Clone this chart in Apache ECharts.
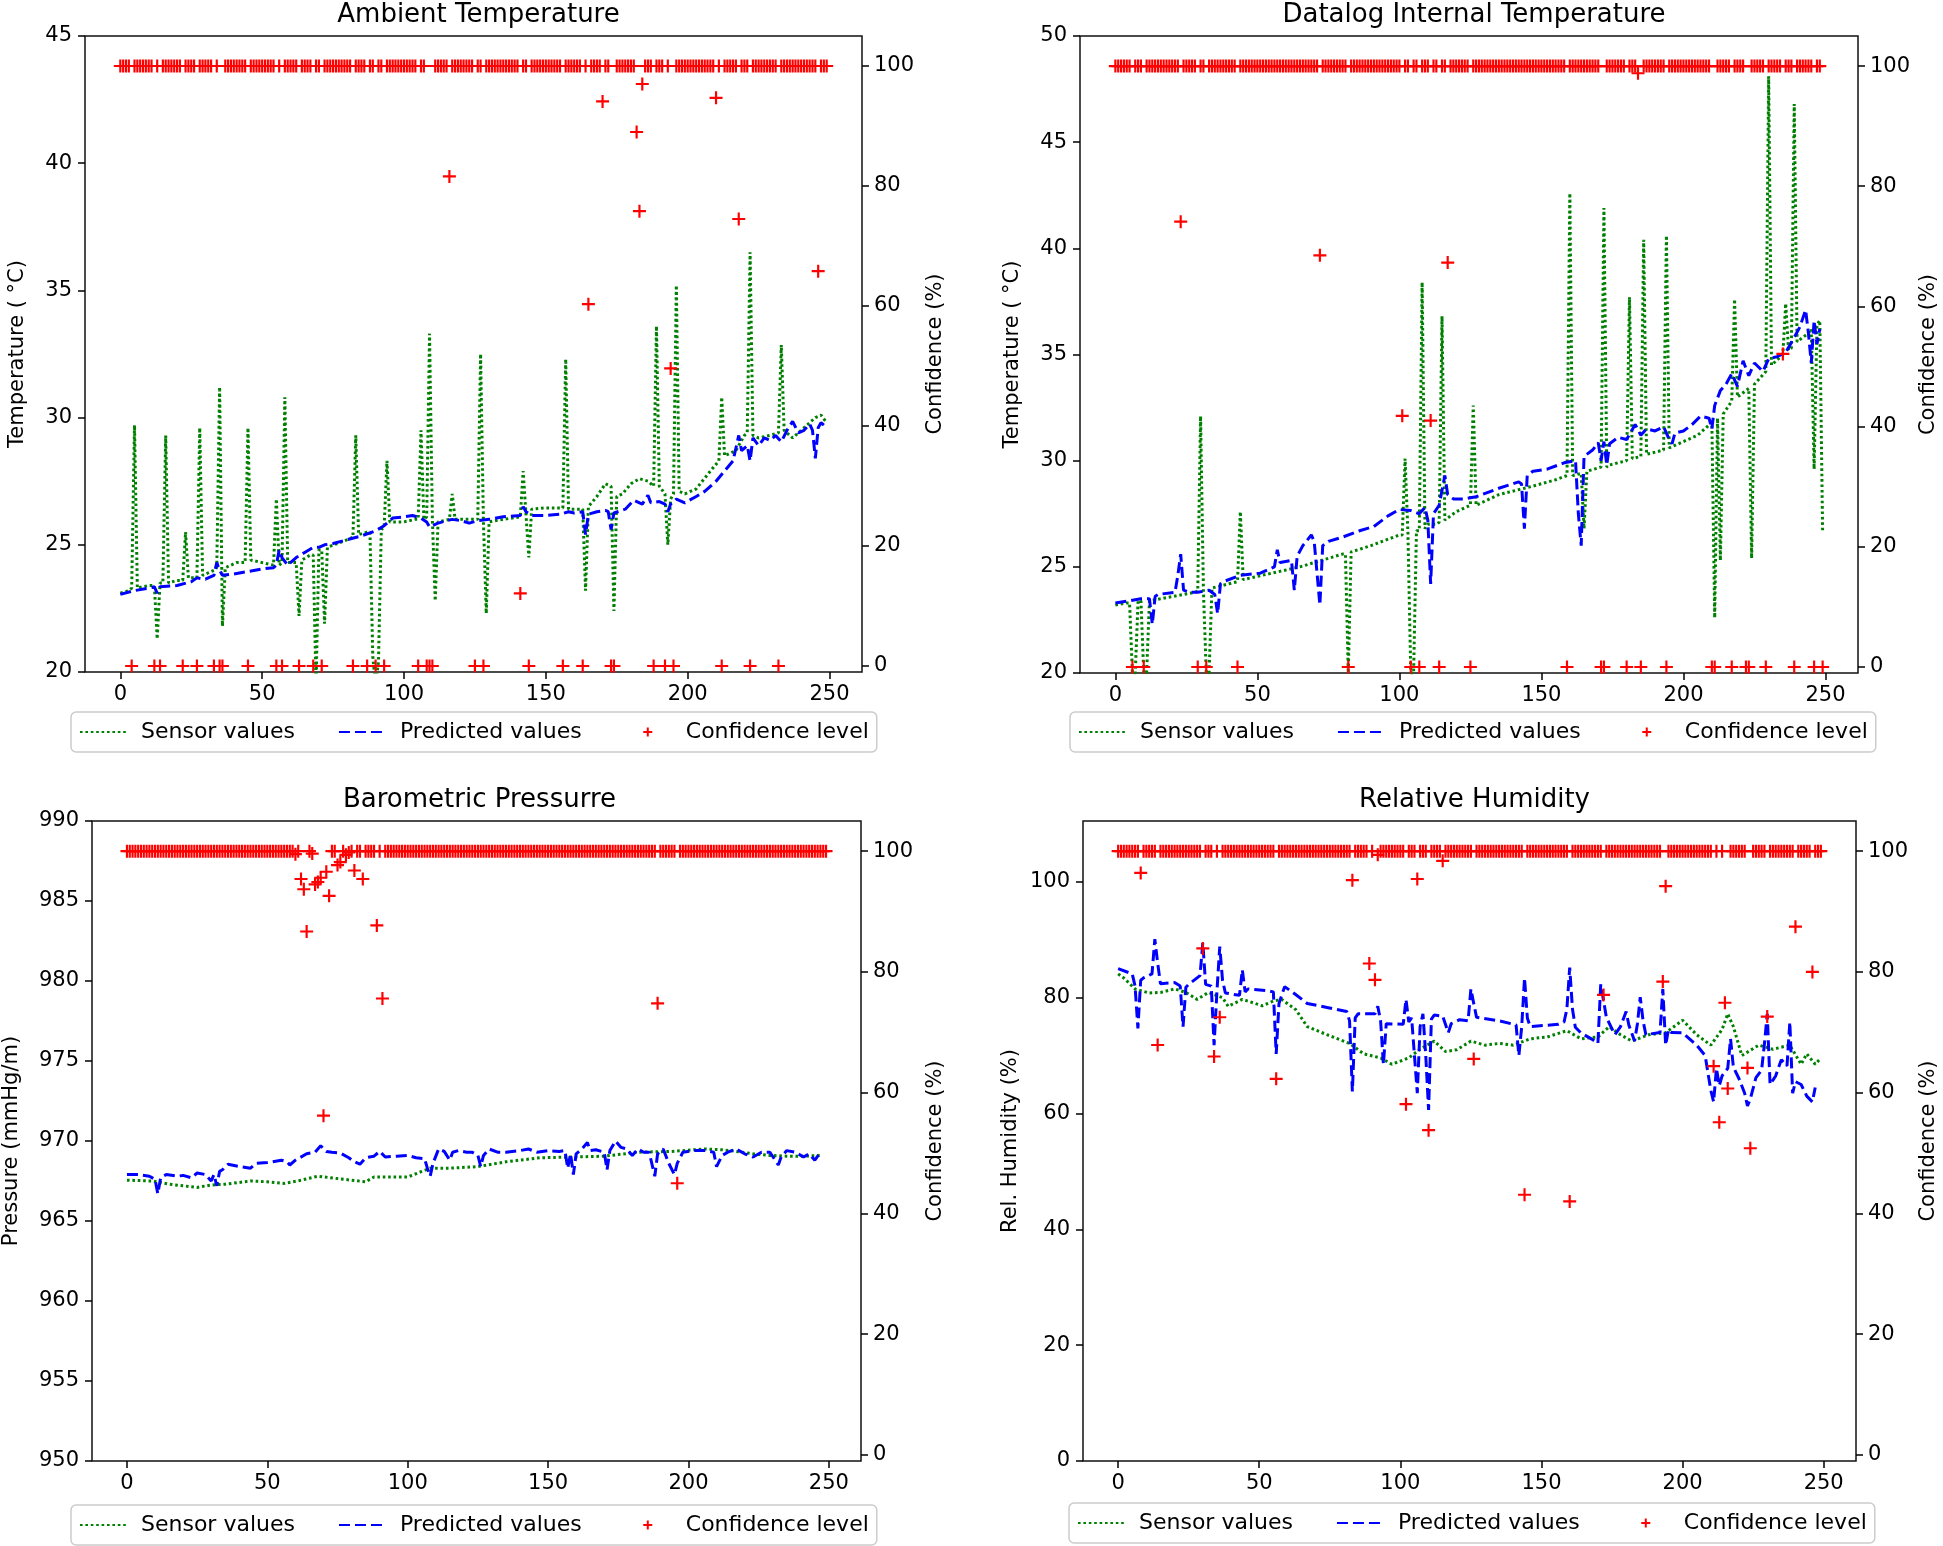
<!DOCTYPE html>
<html><head><meta charset="utf-8">
<script src="https://cdn.jsdelivr.net/npm/echarts@6/dist/echarts.min.js"></script>
<style>html,body{margin:0;padding:0;background:#fff}#c{width:1943px;height:1546px}</style>
</head><body><div id="c"></div><script>
const xTicks=[0,50,100,150,200,250];
const confTicks=[0,20,40,60,80,100];
const rhTicks=[0,20,40,60,80,100];
const titles=['Ambient Temperature','Datalog Internal Temperature','Barometric Pressurre','Relative Humidity'];
const leftNames=['Temperature ( °C)','Temperature ( °C)','Pressure (mmHg/m)','Rel. Humidity (%)'];
const legendNames=['Sensor values','Predicted values','Confidence level'];

const ambientSensor=[[0,23.1],[3,23.2],[4,23.3],[5,29.7],[6,23.3],[10,23.4],[12,23.4],[13,21.3],[14,23.5],[15,23.5],[16,29.3],[17,23.5],[20,23.6],[22,23.6],[23,25.5],[24,23.7],[27,23.7],[28,29.6],[29,23.8],[33,24.0],[34,24.1],[35,31.2],[36,21.8],[37,24.1],[41,24.3],[44,24.3],[45,29.6],[46,24.4],[50,24.3],[54,24.2],[55,26.8],[56,24.2],[57,24.3],[58,30.8],[59,24.3],[62,24.3],[63,22.2],[64,24.4],[67,24.6],[68,24.6],[69,19.5],[70,24.8],[71,24.8],[72,21.9],[73,24.9],[80,25.2],[82,25.3],[83,29.3],[84,25.4],[87,25.5],[88,25.5],[89,20.6],[90,19.5],[91,20.4],[92,25.6],[93,25.7],[94,28.3],[95,25.9],[100,25.9],[104,26.0],[105,26.0],[106,29.5],[107,26.0],[108,26.1],[109,33.3],[110,26.0],[111,22.8],[112,25.9],[116,26.0],[117,27.0],[118,26.0],[126,26.0],[127,32.5],[128,25.9],[129,22.3],[130,25.9],[135,26.0],[141,26.1],[142,27.9],[143,26.2],[144,24.5],[145,26.4],[150,26.45],[156,26.45],[157,32.3],[158,26.4],[163,26.4],[164,23.2],[165,26.5],[168,26.9],[171,27.4],[173,27.3],[174,22.4],[175,26.9],[177,27.0],[180,27.4],[183,27.6],[186,27.5],[188,27.3],[189,33.6],[190,27.3],[192,27.0],[193,25.0],[194,26.8],[195,27.0],[196,35.2],[197,27.1],[199,27.0],[203,27.2],[208,27.9],[211,28.3],[212,30.8],[213,28.5],[217,28.7],[220,29.3],[221,29.4],[222,36.5],[223,29.3],[225,29.2],[229,29.3],[232,29.4],[233,32.85],[234,29.5],[237,29.2],[241,29.6],[245,30.0],[247,30.1],[249,29.8]];
const ambientPred=[[0,23.05],[5,23.2],[10,23.3],[12,23.35],[13,23.1],[14,23.35],[20,23.4],[25,23.55],[27,23.7],[30,23.65],[33,23.8],[34,24.3],[35,24.0],[36,23.8],[40,23.85],[45,23.95],[50,24.05],[54,24.1],[55,24.2],[56,24.8],[57,24.5],[59,24.2],[62,24.5],[65,24.7],[68,24.9],[70,24.9],[72,25.0],[75,25.05],[80,25.2],[85,25.35],[90,25.55],[93,25.75],[96,26.05],[100,26.1],[103,26.15],[106,26.05],[108,25.9],[109,25.7],[110,25.75],[112,25.85],[115,25.95],[117,26.0],[120,25.95],[123,25.85],[126,25.95],[130,26.0],[135,26.1],[141,26.15],[142,26.5],[143,26.3],[145,26.15],[150,26.15],[155,26.2],[158,26.3],[160,26.25],[163,26.3],[164,25.4],[165,26.2],[168,26.3],[171,26.35],[172,26.3],[173,25.6],[174,26.25],[178,26.4],[181,26.75],[184,26.6],[186,26.95],[187,26.65],[190,26.7],[192,26.6],[193,26.3],[194,26.6],[196,26.8],[199,26.65],[203,26.9],[206,27.1],[210,27.5],[213,27.9],[216,28.3],[218,29.3],[219,28.7],[221,28.9],[222,28.3],[223,29.2],[225,28.9],[227,29.2],[229,29.1],[231,29.3],[233,29.05],[235,29.5],[237,29.85],[239,29.4],[241,29.5],[243,29.75],[244,29.5],[245,28.4],[246,29.6],[247,29.8],[248,29.7]];
const ambientConfLow=[[4,0],[12,0],[14,0],[22,0],[27,0],[33,0],[35,0],[36,0],[45,0],[55,0],[57,0],[63,0],[68,0],[71,0],[82,0],[87,0],[90,0],[93,0],[105,0],[108,0],[109,0],[110,0],[116,81.6],[125,0],[128,0],[141,12.1],[144,0],[156,0],[163,0],[165,60.3],[170,94.1],[173,0],[174,0],[182,89.0],[183,75.8],[184,97.0],[188,0],[192,0],[194,49.6],[195,0],[210,94.7],[212,0],[218,74.5],[222,0],[232,0],[246,65.8]];

const datalogSensor=[[0,23.2],[4,23.3],[5,23.3],[6,20],[7,20],[8,23.4],[9,23.4],[10,20],[11,20],[12,23.4],[20,23.6],[28,23.8],[29,23.85],[30,32.1],[31,23.9],[32,20],[33,20],[34,24.0],[40,24.2],[43,24.3],[44,27.6],[45,24.4],[55,24.7],[65,25.0],[75,25.4],[80,25.6],[81,25.6],[82,20],[83,25.7],[90,26.0],[100,26.5],[101,26.5],[102,30.1],[103,26.6],[104,20],[105,20],[106,26.7],[107,26.7],[108,38.4],[109,26.8],[110,27.0],[113,27.0],[114,27.1],[115,36.8],[116,27.2],[120,27.6],[125,27.9],[126,32.6],[127,27.9],[135,28.4],[147,28.8],[155,29.1],[159,29.3],[160,42.6],[161,29.3],[164,29.4],[165,26.8],[166,29.5],[171,29.7],[172,41.9],[173,29.7],[174,29.8],[180,30.0],[181,37.7],[182,30.1],[185,30.2],[186,40.4],[187,30.3],[193,30.5],[194,40.6],[195,30.6],[205,31.2],[210,31.8],[211,22.6],[212,32.0],[213,25.3],[214,32.2],[217,32.8],[218,37.6],[219,33.0],[222,33.3],[223,33.4],[224,25.4],[225,33.6],[229,34.2],[230,48.1],[231,34.5],[235,35.0],[236,37.4],[237,35.2],[238,35.3],[239,46.8],[240,35.6],[244,36.0],[245,36.2],[246,29.6],[247,36.4],[248,36.6],[249,26.6]];
const datalogPred=[[0,23.3],[5,23.4],[9,23.5],[12,23.5],[13,22.3],[14,23.6],[15,23.7],[21,23.8],[22,24.6],[23,25.6],[24,23.9],[26,23.8],[29,23.8],[33,23.9],[35,23.7],[36,22.8],[37,24.2],[38,24.3],[44,24.6],[51,24.7],[56,25.0],[57,25.8],[58,25.2],[62,25.3],[63,23.9],[64,25.5],[66,26.0],[69,26.5],[70,26.2],[72,23.2],[73,26.0],[75,26.2],[80,26.4],[86,26.7],[91,26.9],[96,27.4],[100,27.7],[104,27.65],[107,27.5],[109,27.8],[110,27.2],[111,24.2],[112,27.5],[114,27.9],[116,29.3],[117,28.4],[119,28.2],[123,28.2],[127,28.3],[135,28.7],[142,29.0],[143,28.9],[144,26.8],[145,29.3],[147,29.5],[152,29.6],[158,29.9],[162,30.0],[163,27.5],[164,26.0],[165,30.2],[168,30.5],[170,30.85],[171,30.0],[172,30.9],[173,29.8],[174,30.8],[177,31.1],[180,31.0],[183,31.7],[185,31.2],[187,31.5],[190,31.4],[193,31.6],[195,31.0],[196,30.8],[197,31.3],[200,31.4],[203,31.7],[206,32.1],[209,32.0],[210,31.5],[211,32.6],[213,33.3],[215,33.6],[217,34.1],[219,33.5],[221,34.7],[223,34.0],[225,34.6],[228,34.2],[230,34.8],[233,34.9],[236,35.1],[239,35.8],[241,36.3],[243,37.1],[244,36.0],[245,34.6],[246,36.6],[247,35.5],[248,36.2]];
const datalogConfLow=[[6,0],[10,0],[23,74.1],[29,0],[32,0],[43,0],[72,68.5],[82,0],[101,41.8],[104,0],[107,0],[111,41.0],[114,0],[117,67.3],[125,0],[159,0],[171,0],[172,0],[180,0],[184,98.8],[185,0],[194,0],[210,0],[211,0],[217,0],[222,0],[223,0],[229,0],[235,52.1],[239,0],[246,0],[249,0]];

const pressureSensor=[[0,967.55],[9,967.5],[15,967.3],[20,967.2],[25,967.1],[30,967.25],[35,967.3],[44,967.5],[50,967.45],[56,967.35],[62,967.55],[68,967.8],[75,967.65],[80,967.55],[85,967.45],[88,967.75],[95,967.75],[100,967.75],[105,968.1],[108,968.3],[115,968.3],[125,968.4],[135,968.7],[147,968.95],[158,969.0],[170,969.05],[182,969.3],[194,969.35],[206,969.5],[212,969.45],[217,969.35],[223,969.2],[229,969.1],[235,969.05],[241,969.05],[247,969.1]];
const pressurePred=[[0,967.9],[4,967.9],[8,967.8],[10,967.6],[11,966.7],[12,967.7],[14,967.9],[18,967.8],[20,967.85],[23,967.7],[25,968.0],[28,967.9],[30,967.5],[31,967.9],[32,967.2],[33,968.1],[34,968.2],[36,968.55],[40,968.4],[44,968.3],[46,968.6],[50,968.65],[55,968.8],[57,968.7],[58,968.5],[60,968.8],[64,969.2],[67,969.3],[69,969.7],[71,969.35],[73,969.3],[76,969.25],[79,968.95],[81,968.7],[83,968.55],[85,968.95],[88,969.05],[90,969.35],[92,969.0],[96,969.05],[100,969.1],[103,968.95],[106,968.9],[107,968.3],[108,967.8],[109,968.6],[111,969.5],[113,969.35],[115,968.8],[116,969.3],[118,969.4],[121,969.3],[123,969.3],[125,969.1],[126,968.4],[127,969.1],[129,969.5],[132,969.3],[135,969.3],[140,969.4],[143,969.5],[146,969.3],[150,969.4],[154,969.35],[156,969.4],[157,968.3],[158,969.2],[159,967.9],[160,969.2],[162,969.5],[164,969.9],[165,969.4],[167,969.45],[170,969.3],[171,968.2],[172,969.4],[174,970.0],[176,969.6],[178,969.5],[180,969.1],[182,969.5],[184,969.3],[186,969.3],[188,967.8],[189,969.2],[191,969.5],[193,968.6],[195,967.9],[196,968.6],[198,969.3],[202,969.4],[206,969.4],[209,969.3],[210,968.4],[212,969.1],[214,969.3],[217,969.5],[220,969.2],[223,969.0],[226,969.3],[229,969.3],[232,968.5],[233,969.0],[235,969.4],[238,969.3],[241,969.0],[243,969.2],[245,968.8],[247,969.3]];
const pressureConfLow=[[60,99.5],[62,95.4],[63,93.7],[64,86.7],[66,99.6],[67,94.5],[68,94.9],[69,95.6],[70,56.2],[71,96.6],[72,92.6],[75,97.7],[76,98.2],[78,99.4],[79,99.8],[81,96.8],[84,95.4],[89,87.7],[91,75.6],[189,74.8],[196,45.0]];

const humiditySensor=[[0,84.1],[2,83.4],[6,81.5],[11,80.8],[15,80.9],[20,81.5],[24,80.9],[28,79.7],[32,80.9],[37,80.0],[39,78.5],[44,79.7],[46,79.4],[51,78.6],[55,79.4],[58,79.7],[63,77.9],[67,75.0],[74,73.6],[82,72.1],[87,70.3],[93,69.6],[97,68.5],[103,69.6],[107,71.1],[112,72.5],[116,70.7],[120,71.0],[125,72.5],[130,71.8],[135,72.1],[140,71.8],[146,72.9],[152,73.2],[159,74.3],[164,72.9],[170,73.2],[174,75.0],[178,73.6],[182,72.5],[188,73.6],[194,73.95],[200,76.1],[205,73.6],[210,71.8],[214,74.5],[216,77.2],[218,75.0],[221,70.0],[227,71.8],[232,71.1],[238,71.8],[242,68.5],[244,70.3],[247,68.5],[249,69.6]];
const humidityPred=[[0,85.0],[5,84.1],[6,82.0],[7,74.7],[8,83.0],[9,83.4],[12,84.1],[13,90.1],[14,86.0],[15,82.4],[20,82.6],[22,82.0],[23,75.0],[24,81.8],[25,82.3],[29,83.8],[30,89.5],[31,82.3],[33,82.0],[34,71.8],[35,81.0],[36,88.8],[37,83.0],[38,80.8],[43,80.4],[44,84.8],[45,81.0],[46,81.5],[53,81.2],[55,81.0],[56,70.3],[57,79.0],[59,81.9],[63,80.5],[67,79.0],[74,78.3],[81,77.6],[82,76.0],[83,63.8],[84,76.5],[85,77.2],[91,77.2],[92,78.5],[93,76.0],[94,68.5],[95,75.5],[101,75.4],[102,79.7],[103,75.8],[104,76.5],[105,70.0],[106,63.5],[107,75.0],[108,77.2],[109,70.0],[110,60.6],[111,76.3],[112,77.0],[115,76.8],[117,73.95],[118,75.5],[121,76.2],[124,76.0],[125,81.5],[126,79.0],[127,76.6],[135,76.0],[141,75.3],[142,70.0],[143,75.0],[144,83.4],[145,76.5],[146,75.0],[156,75.4],[158,75.8],[159,78.0],[160,85.2],[161,78.0],[162,74.9],[164,73.9],[168,72.8],[170,72.1],[171,82.3],[172,79.5],[173,76.6],[176,73.6],[178,75.0],[180,77.6],[181,75.2],[183,72.5],[184,75.5],[185,80.1],[186,76.0],[187,73.6],[192,74.0],[193,81.5],[194,71.8],[195,74.5],[196,74.0],[200,73.95],[205,71.8],[208,70.0],[209,67.0],[210,64.0],[211,62.0],[212,67.8],[213,64.8],[214,66.5],[216,67.8],[217,72.9],[218,68.0],[220,66.0],[222,63.5],[223,61.3],[224,62.5],[226,66.2],[228,67.5],[229,72.0],[230,77.2],[231,65.0],[233,66.5],[235,69.3],[237,68.2],[238,75.8],[239,63.5],[240,65.5],[242,65.0],[244,63.0],[246,62.0],[247,64.5]];
const humidityConfLow=[[8,96.4],[14,67.9],[30,83.9],[34,66.0],[36,72.5],[56,62.3],[83,95.2],[89,81.4],[91,78.7],[92,99.4],[102,58.1],[106,95.4],[110,53.8],[115,98.4],[126,65.6],[144,43.1],[160,42.0],[172,76.2],[193,78.4],[194,94.2],[211,64.4],[213,55.1],[215,74.9],[216,60.7],[223,64.1],[224,50.8],[230,72.6],[240,87.5],[246,80.0]];

function confSeries(low){
  const m=new Map(low.map(p=>[p[0],p[1]]));
  const out=[];
  for(let i=0;i<250;i++) out.push([i, m.has(i)?m.get(i):100]);
  return out;
}

const FONT='DejaVu Sans';
const FS=21;
const grids=[
  {left:85,top:36,width:777,height:636},
  {left:1080,top:36,width:778,height:637},
  {left:88,top:821,width:773,height:640},
  {left:1083,top:821,width:773,height:640}
];
const leftAx=[
  {min:20,max:45,interval:5,gap:57},
  {min:20,max:50,interval:5,gap:57},
  {min:950,max:990,interval:5,gap:70},
  {min:0,max:110.5,custom:rhTicks,gap:62}
];
const rightGap=[63,60,64,62];
const legendPos=[[71,712],[1070,712],[71,1505],[1069,1503]];
const titleTop=[-3,-3,782,782];
const panels=[
  [ambientSensor,ambientPred,ambientConfLow],
  [datalogSensor,datalogPred,datalogConfLow],
  [pressureSensor,pressurePred,pressureConfLow],
  [humiditySensor,humidityPred,humidityConfLow]
];
const PLUS='path://M5,0h2v5h5v2h-5v5h-2v-5h-5v-2h5z';
const PLUS_LEGEND='path://M0,0M46,9M22,0h2v3.5h3.5v2h-3.5v3.5h-2v-3.5h-3.5v-2h3.5z';

const tickStyle={show:true,length:7,lineStyle:{color:'#000',width:1.5}};
const noLine={show:false,onZero:false};
const option={animation:false,textStyle:{fontFamily:FONT,color:'#000'},
  grid:grids.map(g=>Object.assign({show:true,borderColor:'#111',borderWidth:1.5,backgroundColor:'transparent'},g)),
  title:grids.map((g,i)=>({text:titles[i],left:g.left+g.width/2,textAlign:'center',top:titleTop[i],textStyle:{fontFamily:FONT,fontSize:26,fontWeight:'normal',color:'#000'}})),
  legend:legendPos.map(p=>({left:p[0],top:p[1],orient:'horizontal',padding:[9,8],itemGap:43,itemWidth:46,itemHeight:9,
    borderColor:'#cccccc',borderWidth:1.5,borderRadius:5,backgroundColor:'#fff',
    textStyle:{fontFamily:FONT,fontSize:22,color:'#000',padding:[0,0,0,10]},
    data:[{name:legendNames[0],itemStyle:{opacity:0}},{name:legendNames[1],itemStyle:{opacity:0}},
          {name:legendNames[2],icon:PLUS_LEGEND,itemStyle:{color:'#ff0000'}}]})),
  xAxis:grids.map((g,i)=>({gridIndex:i,type:'value',min:-12.45,max:261.45,
    axisLine:noLine,splitLine:{show:false},
    axisTick:Object.assign({customValues:xTicks},tickStyle),
    axisLabel:{customValues:xTicks,fontSize:FS,color:'#000',margin:12,fontFamily:FONT}})),
  yAxis:[],series:[]};

grids.forEach((g,i)=>{
  const la=leftAx[i];
  const left={gridIndex:i,type:'value',position:'left',min:la.min,max:la.max,
    name:leftNames[i],nameLocation:'middle',nameGap:la.gap,nameTextStyle:{fontSize:FS,color:'#000',fontFamily:FONT},
    axisLine:noLine,splitLine:{show:false},
    axisTick:Object.assign({},tickStyle),axisLabel:{fontSize:FS,color:'#000',margin:13,fontFamily:FONT}};
  if(la.custom){left.axisTick.customValues=la.custom;left.axisLabel.customValues=la.custom;}
  else left.interval=la.interval;
  const right={gridIndex:i,type:'value',position:'right',min:-1,max:105,
    name:'Confidence (%)',nameLocation:'middle',nameGap:rightGap[i],nameTextStyle:{fontSize:FS,color:'#000',fontFamily:FONT},
    axisLine:noLine,splitLine:{show:false},
    axisTick:Object.assign({customValues:confTicks},tickStyle),
    axisLabel:{customValues:confTicks,fontSize:FS,color:'#000',margin:12,fontFamily:FONT}};
  option.yAxis.push(left,right);
  const [s,p,c]=panels[i];
  option.series.push(
    {name:'Sensor values',type:'line',xAxisIndex:i,yAxisIndex:2*i,data:s,symbol:'none',clip:true,
     lineStyle:{color:'#008000',width:3,type:[2.6,2.8]},itemStyle:{color:'#008000'},z:2},
    {name:'Predicted values',type:'line',xAxisIndex:i,yAxisIndex:2*i,data:p,symbol:'none',clip:true,
     lineStyle:{color:'#0000ff',width:3,type:[11,5]},itemStyle:{color:'#0000ff'},z:3},
    {name:'Confidence level',type:'scatter',xAxisIndex:i,yAxisIndex:2*i+1,data:confSeries(c),
     symbol:PLUS,symbolSize:13,symbolKeepAspect:true,itemStyle:{color:'#ff0000',opacity:1},z:4}
  );
});

const chart=echarts.init(document.getElementById('c'),null,{renderer:'canvas'});
chart.setOption(option);
</script></body></html>
